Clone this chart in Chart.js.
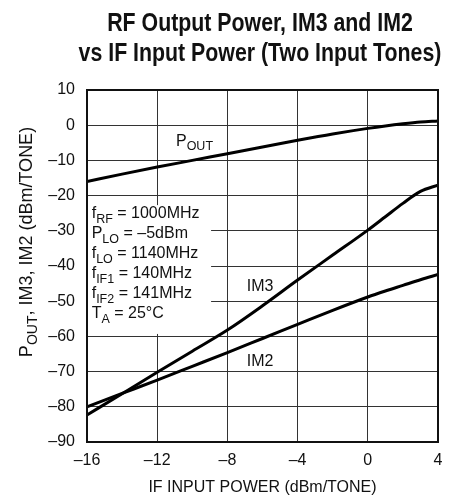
<!DOCTYPE html>
<html>
<head>
<meta charset="utf-8">
<script src="https://cdn.jsdelivr.net/npm/chart.js@4.4.1/dist/chart.umd.min.js"></script>
<style>
  html, body { margin: 0; padding: 0; background: #fff; }
  #wrap { width: 463px; height: 502px; }
</style>
</head>
<body>
<div id="wrap"><canvas id="chart"></canvas></div>
<script>
/**************************************************
 DATA
**************************************************/
const inputPower = [-16, -14, -12, -10, -8, -6, -4, -2, 0, 1, 2, 3, 4];
const pout = [-16, -13.9, -11.9, -10, -8.1, -6.2, -4.3, -2.5, -0.9, -0.2, 0.4, 0.9, 1.2];
const im3  = [-82.3, -76.3, -70.2, -64.2, -58.2, -51.3, -44, -36.9, -29.8, -26, -22.2, -18.8, -17];
const im2  = [-80, -76.2, -72.4, -68.5, -64.6, -60.6, -56.6, -52.6, -48.8, -47.1, -45.5, -43.9, -42.4];

const titleLines = ["RF Output Power, IM3 and IM2", "vs IF Input Power (Two Input Tones)"];
const xTitle = "IF INPUT POWER (dBm/TONE)";
// each text piece: [main, subscript]
const yTitle = [["P", "OUT"], [", IM3, IM2 (dBm/TONE)", ""]];
const conditions = [
  [["f", "RF"], [" = 1000MHz", ""]],
  [["P", "LO"], [" = \u20135dBm", ""]],
  [["f", "LO"], [" = 1140MHz", ""]],
  [["f", "IF1"], [" = 140MHz", ""]],
  [["f", "IF2"], [" = 141MHz", ""]],
  [["T", "A"], [" = 25\u00B0C", ""]]
];
// curve labels, anchored in data units
const curveLabels = [
  { x: -10.93, y: -5.8, parts: [["P", "OUT"]] },
  { x: -6.9, y: -47.1, parts: [["IM3", ""]] },
  { x: -6.9, y: -68.4, parts: [["IM2", ""]] }
];

const FONT = "'Liberation Sans', Arial, Helvetica, sans-serif";

/**************************************************
 TEXT WITH SUBSCRIPTS
**************************************************/
function drawParts(ctx, parts, x, y, size = 16, sub = 12.5) {
  let cx = x;
  parts.forEach(p => {
    ctx.font = size + "px " + FONT;
    ctx.fillText(p[0], cx, y);
    cx += ctx.measureText(p[0]).width;
    if (p[1]) {
      ctx.font = sub + "px " + FONT;
      ctx.fillText(p[1], cx, y + size * 0.27);
      cx += ctx.measureText(p[1]).width;
    }
  });
  return cx - x;
}

function partsWidth(ctx, parts, size = 16, sub = 12.5) {
  let w = 0;
  parts.forEach(p => {
    ctx.font = size + "px " + FONT;
    w += ctx.measureText(p[0]).width;
    if (p[1]) { ctx.font = sub + "px " + FONT; w += ctx.measureText(p[1]).width; }
  });
  return w;
}

const notesPlugin = {
  id: "notes",
  beforeDatasetsDraw(chart) {
    const {ctx, scales: {x, y}} = chart;
    // white box holding the test conditions
    const left = x.getPixelForValue(-16), right = x.getPixelForValue(-8.93);
    const top = y.getPixelForValue(-22.7), bottom = y.getPixelForValue(-59.3);
    ctx.save();
    ctx.fillStyle = "#fff";
    ctx.fillRect(left, top, right - left, bottom - top);
    ctx.fillStyle = "#111";
    ctx.textBaseline = "alphabetic";
    ctx.textAlign = "left";
    conditions.forEach((line, i) => drawParts(ctx, line, left + 4.7, top + 13.3 + i * 20));
    ctx.restore();
  },
  afterDraw(chart) {
    const {ctx, chartArea: a, scales: {x, y}} = chart;
    ctx.save();
    ctx.strokeStyle = "#111";
    ctx.lineWidth = 2;
    ctx.strokeRect(a.left, a.top, a.right - a.left, a.bottom - a.top);

    ctx.fillStyle = "#111";
    ctx.textAlign = "left";
    ctx.textBaseline = "alphabetic";
    curveLabels.forEach(l => drawParts(ctx, l.parts, x.getPixelForValue(l.x), y.getPixelForValue(l.y)));

    // condensed bold title
    ctx.font = "bold 26px " + FONT;
    ctx.textAlign = "center";
    titleLines.forEach((t, i) => {
      ctx.save();
      ctx.translate(260, 31 + i * 29.5);
      ctx.scale(0.82, 1);
      ctx.fillText(t, 0, 0);
      ctx.restore();
    });
    ctx.textAlign = "left";

    // rotated y-axis title
    const w = partsWidth(ctx, yTitle, 18, 14);
    ctx.translate(32, 242 + w / 2);
    ctx.rotate(-Math.PI / 2);
    drawParts(ctx, yTitle, 0, 0, 18, 14);
    ctx.restore();
  }
};

/**************************************************
 CHART
**************************************************/
const dash = v => String(v).replace("-", "\u2013");
const series = ys => inputPower.map((v, i) => ({x: v, y: ys[i]}));
const lineStyle = {
  borderColor: "#000", borderWidth: 3, pointRadius: 0,
  cubicInterpolationMode: "monotone", fill: false
};

new Chart(document.getElementById("chart"), {
  type: "line",
  data: {
    datasets: [
      {label: "POUT", data: series(pout), ...lineStyle},
      {label: "IM3", data: series(im3), ...lineStyle},
      {label: "IM2", data: series(im2), ...lineStyle}
    ]
  },
  options: {
    responsive: true,
    maintainAspectRatio: false,
    animation: false,
    events: [],
    layout: {padding: {left: 0, right: 25, top: 90, bottom: 0}},
    plugins: {
      legend: {display: false},
      tooltip: {enabled: false},
      title: {display: false}
    },
    scales: {
      x: {
        type: "linear",
        min: -16, max: 4,
        afterFit: s => { s.height = 60; },
        ticks: {stepSize: 4, color: "#111", padding: 9, font: {family: FONT, size: 16}, callback: dash},
        grid: {color: "#333", lineWidth: 1, drawTicks: false},
        border: {display: false},
        title: {display: true, text: xTitle, color: "#111", font: {family: FONT, size: 16}, padding: {bottom: 5}}
      },
      y: {
        type: "linear",
        min: -90, max: 10,
        afterFit: s => { s.width = 87; },
        ticks: {stepSize: 10, color: "#111", padding: 12, font: {family: FONT, size: 16}, callback: dash},
        grid: {color: "#333", lineWidth: 1, drawTicks: false},
        border: {display: false}
      }
    }
  },
  plugins: [notesPlugin]
});
</script>
</body>
</html>
